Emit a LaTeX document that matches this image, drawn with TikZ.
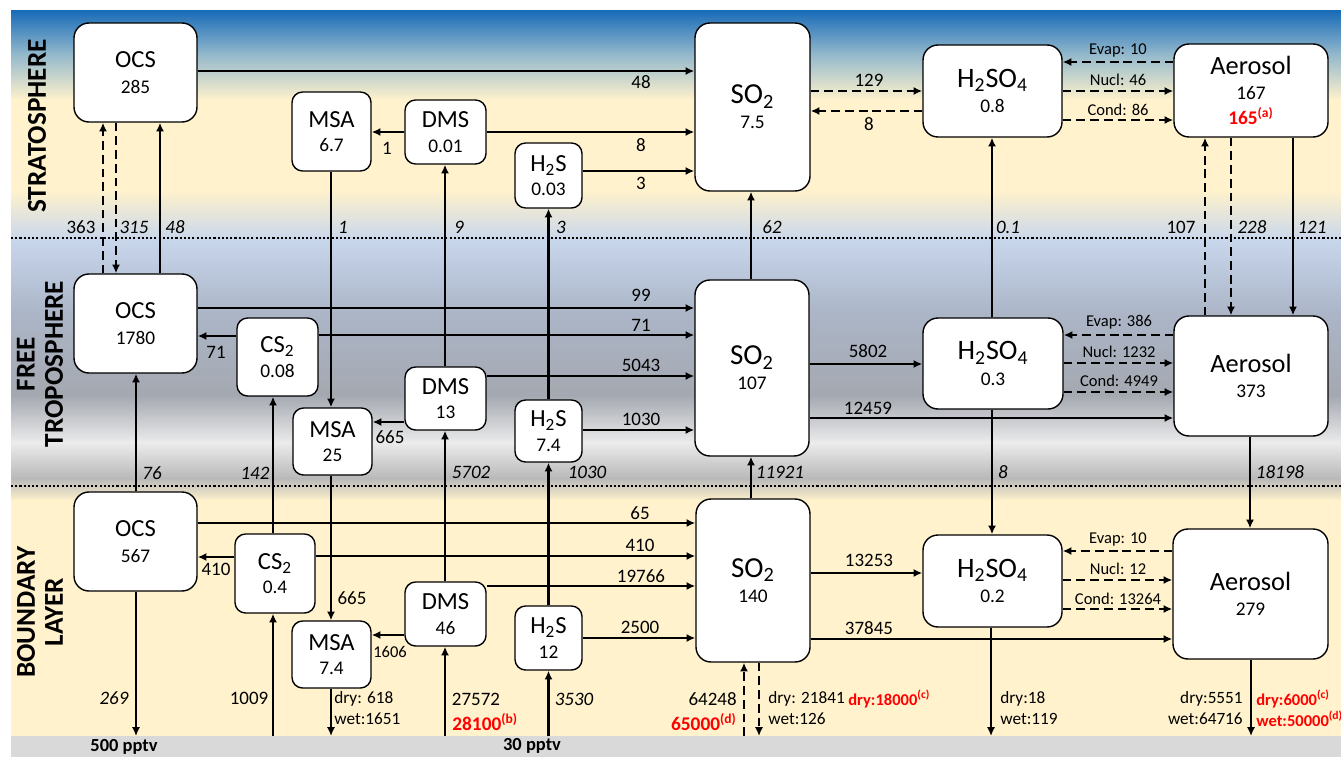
\documentclass[tikz,border=0pt]{standalone}
\usepackage{fontspec}
\setmainfont{Carlito}
\usepackage{tikz}
\usetikzlibrary{arrows.meta}

\definecolor{skytop}{RGB}{26,108,184}
\definecolor{skymid}{RGB}{150,186,204}
\definecolor{cream}{RGB}{255,242,204}
\definecolor{ftblue}{RGB}{200,214,236}
\definecolor{ftslate}{RGB}{172,182,200}
\definecolor{ftgray}{RGB}{164,168,176}
\definecolor{ftlight}{RGB}{236,236,236}
\definecolor{ftdark}{RGB}{184,184,184}
\definecolor{groundgray}{RGB}{217,217,217}
\definecolor{obsred}{RGB}{255,0,0}

\newcommand{\valsz}{\fontsize{11}{14}\selectfont}
\newcommand{\obsval}[1]{{\fontsize{11}{13}\selectfont\bfseries\color{obsred}#1}}

\tikzset{
  chem/.style={draw=black, fill=white, line width=0.8pt, rounded corners=6pt,
    align=center, inner sep=0pt, font=\fontsize{14}{13.8}\selectfont},
  bigchem/.style={chem, rounded corners=8.5pt, font=\fontsize{14}{14.5}\selectfont},
  soxbox/.style={bigchem, font=\fontsize{16.5}{14.4}\selectfont},
  acidbox/.style={bigchem, font=\fontsize{16}{14.4}\selectfont},
  aerbox/.style={bigchem, font=\fontsize{15}{14}\selectfont},
  flow/.style={-{Latex[length=5pt,width=4.6pt]}, line width=1.3pt},
  dflow/.style={flow, dash pattern=on 5pt off 2.8pt},
  layersep/.style={line width=1.2pt, dash pattern=on 1.2pt off 1.2pt},
  lbl/.style={inner sep=0pt, font=\fontsize{10.8}{12}\selectfont},
  ilbl/.style={lbl, font=\fontsize{10.8}{12}\selectfont\itshape},
  slbl/.style={inner sep=0pt, font=\fontsize{9.4}{11}\selectfont},
  wlbl/.style={inner sep=0pt, font=\fontsize{9.8}{11}\selectfont},
  obs/.style={inner sep=0pt, text=obsred, font=\fontsize{11}{12}\selectfont\bfseries},
  wobs/.style={obs, font=\fontsize{9.4}{11}\selectfont\bfseries},
  layer/.style={rotate=90, align=center, font=\fontsize{15.5}{16}\selectfont\bfseries},
  gndlbl/.style={inner sep=0pt, font=\fontsize{10.5}{12}\selectfont\bfseries}
}

\begin{document}
\begin{tikzpicture}[x=0.02cm, y=-0.02cm]
  \useasboundingbox (0,0) rectangle (1341,757);

  % layer backgrounds
  \fill[white] (0,0) rectangle (1341,757);
  \shade[top color=skytop, bottom color=cream, middle color=skymid] (11,11) rectangle (1341,100);
  \fill[cream] (11,99) rectangle (1341,191);
  \shade[top color=cream, bottom color=ftblue] (11,190) rectangle (1341,241);
  \shade[top color=ftblue, bottom color=ftslate] (11,240) rectangle (1341,311);
  \shade[top color=ftslate, bottom color=ftgray] (11,310) rectangle (1341,396);
  \shade[top color=ftgray, bottom color=ftlight] (11,395) rectangle (1341,443);
  \shade[top color=ftlight, bottom color=ftdark] (11,442) rectangle (1341,479);
  \shade[top color=ftdark, bottom color=cream] (11,478) rectangle (1341,501);
  \fill[cream] (11,500) rectangle (1341,736);
  \node[fill=groundgray, inner sep=0pt, minimum width=26.6cm, minimum height=0.42cm,
    anchor=north west] (ground) at (11,736) {};
  \draw[layersep] (11,238) -- (1341,238);
  \draw[layersep] (11,486) -- (1341,486);

  \node[layer] (strat) at (37,126) {STRATOSPHERE};
  \node[layer] (freetrop) at (40,364) {FREE\\TROPOSPHERE};
  \node[layer] (boundary) at (40,612) {BOUNDARY\\LAYER};
  \node[gndlbl] (ocsfix) at (124,747) {500 pptv};
  \node[gndlbl] (hsfix) at (532,746) {30 pptv};

  % stratosphere
  \node[bigchem, minimum width=2.46cm, minimum height=1.98cm] (ocsS) at (135.5,72.5) {OCS\\\valsz 285};
  \node[chem, minimum width=1.58cm, minimum height=1.58cm] (msaS) at (331.5,131.5) {MSA\\\valsz 6.7};
  \node[chem, minimum width=1.62cm, minimum height=1.28cm] (dmsS) at (445.5,132) {DMS\\\valsz 0.01};
  \node[chem, minimum width=1.34cm, minimum height=1.30cm] (hsS) at (548.5,175.5) {H\textsubscript{2}S\\\valsz 0.03};
  \node[soxbox, minimum width=2.30cm, minimum height=3.36cm] (soS) at (752.5,107) {SO\textsubscript{2}\\\valsz 7.5};
  \node[acidbox, minimum width=2.78cm, minimum height=1.84cm] (haS) at (992.5,91) {H\textsubscript{2}SO\textsubscript{4}\\\valsz 0.8};
  \node[aerbox, minimum width=3.08cm, minimum height=1.86cm] (aerS) at (1251,90.5) {Aerosol\\\valsz 167\\\obsval{165\textsuperscript{(a)}}};

  % free troposphere
  \node[bigchem, minimum width=2.46cm, minimum height=1.98cm] (ocsF) at (135.5,323.5) {OCS\\\valsz 1780};
  \node[chem, minimum width=1.62cm, minimum height=1.56cm] (csF) at (277.5,357) {CS\textsubscript{2}\\\valsz 0.08};
  \node[chem, minimum width=1.58cm, minimum height=1.34cm] (msaF) at (332.5,441.5) {MSA\\\valsz 25};
  \node[chem, minimum width=1.62cm, minimum height=1.26cm] (dmsF) at (445.5,398.5) {DMS\\\valsz 13};
  \node[chem, minimum width=1.34cm, minimum height=1.24cm] (hsF) at (548.5,431) {H\textsubscript{2}S\\\valsz 7.4};
  \node[soxbox, minimum width=2.28cm, minimum height=3.52cm] (soF) at (752,368) {SO\textsubscript{2}\\\valsz 107};
  \node[acidbox, minimum width=2.80cm, minimum height=1.82cm] (haF) at (993,363.5) {H\textsubscript{2}SO\textsubscript{4}\\\valsz 0.3};
  \node[aerbox, minimum width=3.08cm, minimum height=2.40cm] (aerF) at (1251,376) {Aerosol\\\valsz 373};

  % boundary layer
  \node[bigchem, minimum width=2.46cm, minimum height=1.98cm] (ocsB) at (135.5,541.5) {OCS\\\valsz 567};
  \node[chem, minimum width=1.60cm, minimum height=1.58cm] (csB) at (275,573.5) {CS\textsubscript{2}\\\valsz 0.4};
  \node[chem, minimum width=1.58cm, minimum height=1.34cm] (msaB) at (331.5,654.5) {MSA\\\valsz 7.4};
  \node[chem, minimum width=1.62cm, minimum height=1.28cm] (dmsB) at (445.5,614) {DMS\\\valsz 46};
  \node[chem, minimum width=1.34cm, minimum height=1.28cm] (hsB) at (548.5,638) {H\textsubscript{2}S\\\valsz 12};
  \node[soxbox, minimum width=2.28cm, minimum height=3.26cm] (soB) at (753,580.5) {SO\textsubscript{2}\\\valsz 140};
  \node[acidbox, minimum width=2.78cm, minimum height=1.84cm] (haB) at (992.5,581) {H\textsubscript{2}SO\textsubscript{4}\\\valsz 0.2};
  \node[aerbox, minimum width=3.10cm, minimum height=2.60cm] (aerB) at (1250.5,594) {Aerosol\\\valsz 279};

  % stratosphere fluxes
  \draw[flow] (ocsS.east |- 0,71) -- (soS.west |- 0,71);
  \draw[flow] (dmsS.west |- 0,132) -- (msaS.east |- 0,132);
  \draw[flow] (dmsS.east |- 0,132) -- (soS.west |- 0,132);
  \draw[flow] (hsS.east |- 0,171) -- (soS.west |- 0,171);
  \draw[dflow] (soS.east |- 0,91) -- (haS.west |- 0,91);
  \draw[dflow] (haS.west |- 0,111) -- (soS.east |- 0,111);
  \draw[dflow] (aerS.west |- 0,62) -- (haS.east |- 0,62);
  \draw[dflow] (haS.east |- 0,91) -- (aerS.west |- 0,91);
  \draw[dflow] (haS.east |- 0,120) -- (aerS.west |- 0,120);
  \node[lbl] (fS1) at (641,82) {48};
  \node[lbl] (fS2) at (641,145) {8};
  \node[lbl] (fS3) at (641,183) {3};
  \node[lbl] (fS4) at (387,148) {1};
  \node[lbl] (fS5) at (869,80) {129};
  \node[lbl] (fS6) at (869,124) {8};
  \node[slbl] (fS7) at (1118,50) {Evap: 10};
  \node[slbl] (fS8) at (1118,80) {Nucl: 46};
  \node[slbl] (fS9) at (1118,110) {Cond: 86};

  % stratosphere / free troposphere exchange
  \draw[dflow] (ocsF.north -| 103,0) -- (ocsS.south -| 103,0);
  \draw[dflow] (ocsS.south -| 116,0) -- (ocsF.north -| 116,0);
  \draw[flow] (ocsF.north -| 160,0) -- (ocsS.south -| 160,0);
  \draw[flow] (msaS.south -| 331,0) -- (msaF.north -| 331,0);
  \draw[flow] (dmsF.north -| 445,0) -- (dmsS.south -| 445,0);
  \draw[flow] (hsF.north) -- (hsS.south);
  \draw[flow] (soF.north -| 751,0) -- (soS.south -| 751,0);
  \draw[flow] (haF.north -| 992,0) -- (haS.south -| 992,0);
  \draw[dflow] (aerF.north -| 1205,0) -- (aerS.south -| 1205,0);
  \draw[dflow] (aerS.south -| 1231,0) -- (aerF.north -| 1231,0);
  \draw[flow] (aerS.south -| 1293,0) -- (aerF.north -| 1293,0);
  \node[lbl] (xU1) at (81,227) {363};
  \node[ilbl] (xU2) at (134,227) {315};
  \node[ilbl] (xU3) at (175,227) {48};
  \node[ilbl] (xU4) at (343,227) {1};
  \node[ilbl] (xU5) at (459,227) {9};
  \node[ilbl] (xU6) at (561,227) {3};
  \node[ilbl] (xU7) at (772,227) {62};
  \node[ilbl] (xU8) at (1008,227) {0.1};
  \node[lbl] (xU9) at (1181,227) {107};
  \node[ilbl] (xU10) at (1252,227) {228};
  \node[ilbl] (xU11) at (1312,227) {121};

  % free troposphere fluxes
  \draw[flow] (ocsF.east |- 0,308) -- (soF.west |- 0,308);
  \draw[flow] (csF.west |- 0,336) -- (ocsF.east |- 0,336);
  \draw[flow] (csF.east |- 0,335) -- (soF.west |- 0,335);
  \draw[flow] (dmsF.west |- 0,422) -- (msaF.east |- 0,422);
  \draw[flow] (dmsF.east |- 0,376) -- (soF.west |- 0,376);
  \draw[flow] (hsF.east |- 0,430) -- (soF.west |- 0,430);
  \draw[flow] (soF.east |- 0,364) -- (haF.west |- 0,364);
  \draw[flow] (soF.east |- 0,418) -- (aerF.west |- 0,418);
  \draw[dflow] (aerF.west |- 0,335) -- (haF.east |- 0,335);
  \draw[dflow] (haF.east |- 0,363) -- (aerF.west |- 0,363);
  \draw[dflow] (haF.east |- 0,392) -- (aerF.west |- 0,392);
  \node[lbl] (fF1) at (641,295) {99};
  \node[lbl] (fF2) at (641,325) {71};
  \node[lbl] (fF3) at (641,365) {5043};
  \node[lbl] (fF4) at (641,419) {1030};
  \node[lbl] (fF5) at (216,352) {71};
  \node[lbl] (fF6) at (390,437) {665};
  \node[lbl] (fF7) at (868,351) {5802};
  \node[lbl] (fF8) at (868,408) {12459};
  \node[slbl] (fF9) at (1119,322) {Evap: 386};
  \node[slbl] (fF10) at (1119,352) {Nucl: 1232};
  \node[slbl] (fF11) at (1119,381) {Cond: 4949};

  % free troposphere / boundary layer exchange
  \draw[flow] (ocsB.north -| 136,0) -- (ocsF.south -| 136,0);
  \draw[flow] (csB.north -| 273,0) -- (csF.south -| 273,0);
  \draw[flow] (msaF.south -| 331,0) -- (msaB.north -| 331,0);
  \draw[flow] (dmsB.north -| 445,0) -- (dmsF.south -| 445,0);
  \draw[flow] (hsB.north) -- (hsF.south);
  \draw[flow] (soB.north -| 751,0) -- (soF.south -| 751,0);
  \draw[flow] (haF.south -| 992,0) -- (haB.north -| 992,0);
  \draw[flow] (aerF.south -| 1250,0) -- (aerB.north -| 1250,0);
  \node[ilbl] (xL1) at (152,473) {76};
  \node[ilbl] (xL2) at (255,473) {142};
  \node[ilbl] (xL3) at (471,472) {5702};
  \node[ilbl] (xL4) at (587,472) {1030};
  \node[ilbl] (xL5) at (780,472) {11921};
  \node[ilbl] (xL6) at (1003,472) {8};
  \node[ilbl] (xL7) at (1280,472) {18198};

  % boundary layer fluxes
  \draw[flow] (ocsB.east |- 0,523) -- (soB.west |- 0,523);
  \draw[flow] (csB.west |- 0,557) -- (ocsB.east |- 0,557);
  \draw[flow] (csB.east |- 0,556) -- (soB.west |- 0,556);
  \draw[flow] (dmsB.west |- 0,635) -- (msaB.east |- 0,635);
  \draw[flow] (dmsB.east |- 0,586) -- (soB.west |- 0,586);
  \draw[flow] (hsB.east |- 0,638) -- (soB.west |- 0,638);
  \draw[flow] (soB.east |- 0,573) -- (haB.west |- 0,573);
  \draw[flow] (soB.east |- 0,639) -- (aerB.west |- 0,639);
  \draw[dflow] (aerB.west |- 0,551) -- (haB.east |- 0,551);
  \draw[dflow] (haB.east |- 0,580) -- (aerB.west |- 0,580);
  \draw[dflow] (haB.east |- 0,609) -- (aerB.west |- 0,609);
  \node[lbl] (fB1) at (640,513) {65};
  \node[lbl] (fB2) at (640,545) {410};
  \node[lbl] (fB3) at (641,576) {19766};
  \node[lbl] (fB4) at (640,627) {2500};
  \node[lbl] (fB5) at (216,569) {410};
  \node[lbl] (fB6) at (352,598) {665};
  \node[slbl] (fB7) at (390,652) {1606};
  \node[lbl] (fB8) at (869,560) {13253};
  \node[lbl] (fB9) at (869,628) {37845};
  \node[slbl] (fB10) at (1118,539) {Evap: 10};
  \node[slbl] (fB11) at (1118,569) {Nucl: 12};
  \node[slbl] (fB12) at (1118,599) {Cond: 13264};

  % surface emission and deposition
  \draw[flow] (ocsB.south -| 136,0) -- (ground.north -| 136,0);
  \draw[flow] (ground.north -| 273,0) -- (csB.south -| 273,0);
  \draw[flow] (msaB.south -| 331,0) -- (ground.north -| 331,0);
  \draw[flow] (ground.north -| 445,0) -- (dmsB.south -| 445,0);
  \draw[flow] (ground.north -| 548.5,0) -- (hsB.south);
  \draw[dflow] (ground.north -| 744,0) -- (soB.south -| 744,0);
  \draw[dflow] (soB.south -| 759,0) -- (ground.north -| 759,0);
  \draw[flow] (haB.south -| 991,0) -- (ground.north -| 991,0);
  \draw[flow] (aerB.south -| 1251,0) -- (ground.north -| 1251,0);
  \node[ilbl] (sf1) at (114,698) {269};
  \node[lbl] (sf2) at (249,698) {1009};
  \node[wlbl, anchor=west] (sf3) at (334,699) {dry: 618};
  \node[wlbl, anchor=west] (sf4) at (334,719) {wet:1651};
  \node[lbl] (sf5) at (476,699) {27572};
  \node[obs, anchor=west] (sf6) at (452,722) {28100\textsuperscript{(b)}};
  \node[ilbl] (sf7) at (574,699) {3530};
  \node[lbl, anchor=east] (sf8) at (737,699) {64248};
  \node[obs, anchor=east] (sf9) at (737,722) {65000\textsuperscript{(d)}};
  \node[wlbl, anchor=west] (sf10) at (768,699) {dry: 21841};
  \node[wobs, anchor=west] (sf11) at (848,699) {dry:18000\textsuperscript{(c)}};
  \node[wlbl, anchor=west] (sf12) at (768,719) {wet:126};
  \node[wlbl, anchor=west] (sf13) at (1000,699) {dry:18};
  \node[wlbl, anchor=west] (sf14) at (1000,719) {wet:119};
  \node[wlbl, anchor=east] (sf15) at (1243,699) {dry:5551};
  \node[wlbl, anchor=east] (sf16) at (1243,719) {wet:64716};
  \node[wobs, anchor=west] (sf17) at (1256,699) {dry:6000\textsuperscript{(c)}};
  \node[wobs, anchor=west] (sf18) at (1256,719) {wet:50000\textsuperscript{(d)}};
\end{tikzpicture}
\end{document}
